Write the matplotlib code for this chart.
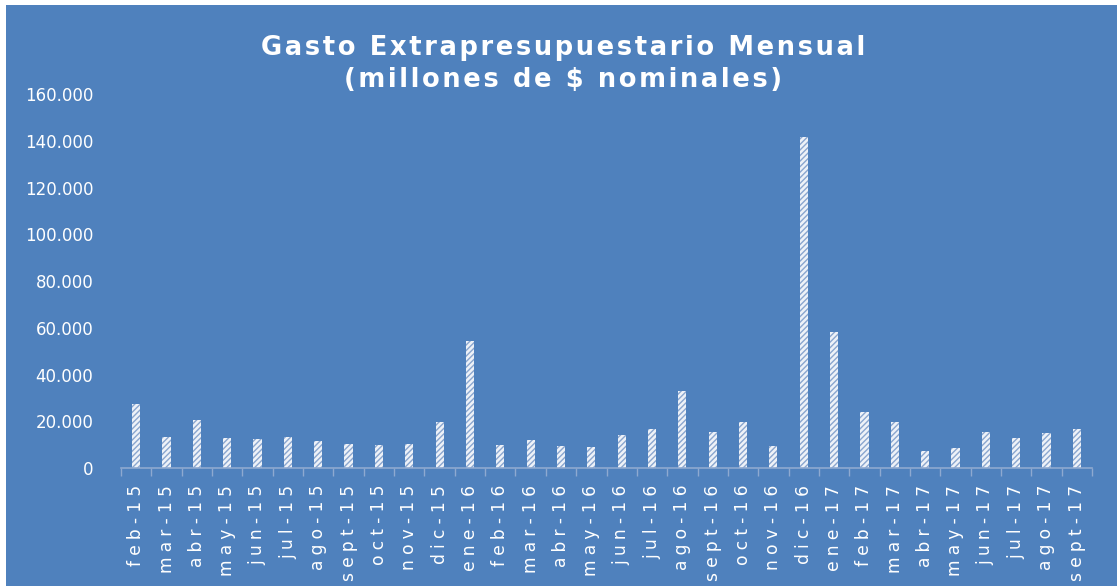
import matplotlib
matplotlib.use("Agg")
import matplotlib.pyplot as plt
from matplotlib.patches import Rectangle
from matplotlib.ticker import FuncFormatter, FixedLocator
import numpy as np

months = ["feb-15", "mar-15", "abr-15", "may-15", "jun-15", "jul-15", "ago-15", "sept-15",
          "oct-15", "nov-15", "dic-15", "ene-16", "feb-16", "mar-16", "abr-16", "may-16",
          "jun-16", "jul-16", "ago-16", "sept-16", "oct-16", "nov-16", "dic-16", "ene-17",
          "feb-17", "mar-17", "abr-17", "may-17", "jun-17", "jul-17", "ago-17", "sept-17"]
gasto = [27400, 13300, 20500, 12800, 12400, 13300, 11500, 10300,
         9800, 10300, 19700, 54300, 9800, 12000, 9400, 9000,
         14100, 16700, 32900, 15400, 19700, 9400, 141600, 58200,
         24000, 19700, 7300, 8600, 15400, 12800, 15000, 16700]

bg = "#4F81BD"
W, H = 1118, 586

fig = plt.figure(figsize=(W / 100, H / 100), dpi=100, facecolor="white")
# blue chart area, with the thin white margin at top/left like the original
fig.patches.append(Rectangle((6 / W, 0), (1117 - 6) / W, (H - 5) / H,
                             transform=fig.transFigure, facecolor=bg,
                             edgecolor="none", zorder=-10))

ax = fig.add_axes([121 / W, (H - 468) / H, (1092 - 121) / W, (468 - 94) / H])
ax.set_facecolor("none")

plt.rcParams["hatch.linewidth"] = 1.0
x = np.arange(len(months))
ax.bar(x, gasto, width=0.27, color="#EEF2F8", edgecolor="#8AA6CF",
       hatch="//////", linewidth=0, zorder=2)

ax.set_xlim(-0.5, len(months) - 0.5)
ax.set_ylim(0, 160000)
ax.set_yticks(np.arange(0, 160001, 20000))
ax.yaxis.set_major_formatter(FuncFormatter(lambda v, p: f"{int(v):,}".replace(",", ".")))

# letter-spaced labels like the original
spaced = ["\u2009\u200a".join(m) for m in months]
ax.set_xticks(x)
ax.set_xticklabels(spaced, rotation=90, va="top", ha="center")
ax.xaxis.set_minor_locator(FixedLocator(np.arange(-0.5, len(months), 1)))
ax.tick_params(axis="x", which="major", length=0, pad=12, labelsize=12.3, colors="white")
ax.tick_params(axis="x", which="minor", length=6, width=1, color="#8EA9D0", direction="out")
ax.tick_params(axis="y", length=0, pad=20, labelsize=12, colors="white")

for s in ["top", "right", "left"]:
    ax.spines[s].set_visible(False)
ax.spines["bottom"].set_color("#8EA9D0")
ax.spines["bottom"].set_linewidth(1.2)

title1 = "\u200a".join("Gasto Extrapresupuestario Mensual")
title2 = "\u200a".join("(millones de $ nominales)")
fig.text(563 / W, 1 - 48 / H, title1, ha="center", va="center", color="white",
         fontsize=18.5, fontweight="bold")
fig.text(563 / W, 1 - 80 / H, title2, ha="center", va="center", color="white",
         fontsize=18.5, fontweight="bold")

fig.savefig("out.png", dpi=100, facecolor="white")
